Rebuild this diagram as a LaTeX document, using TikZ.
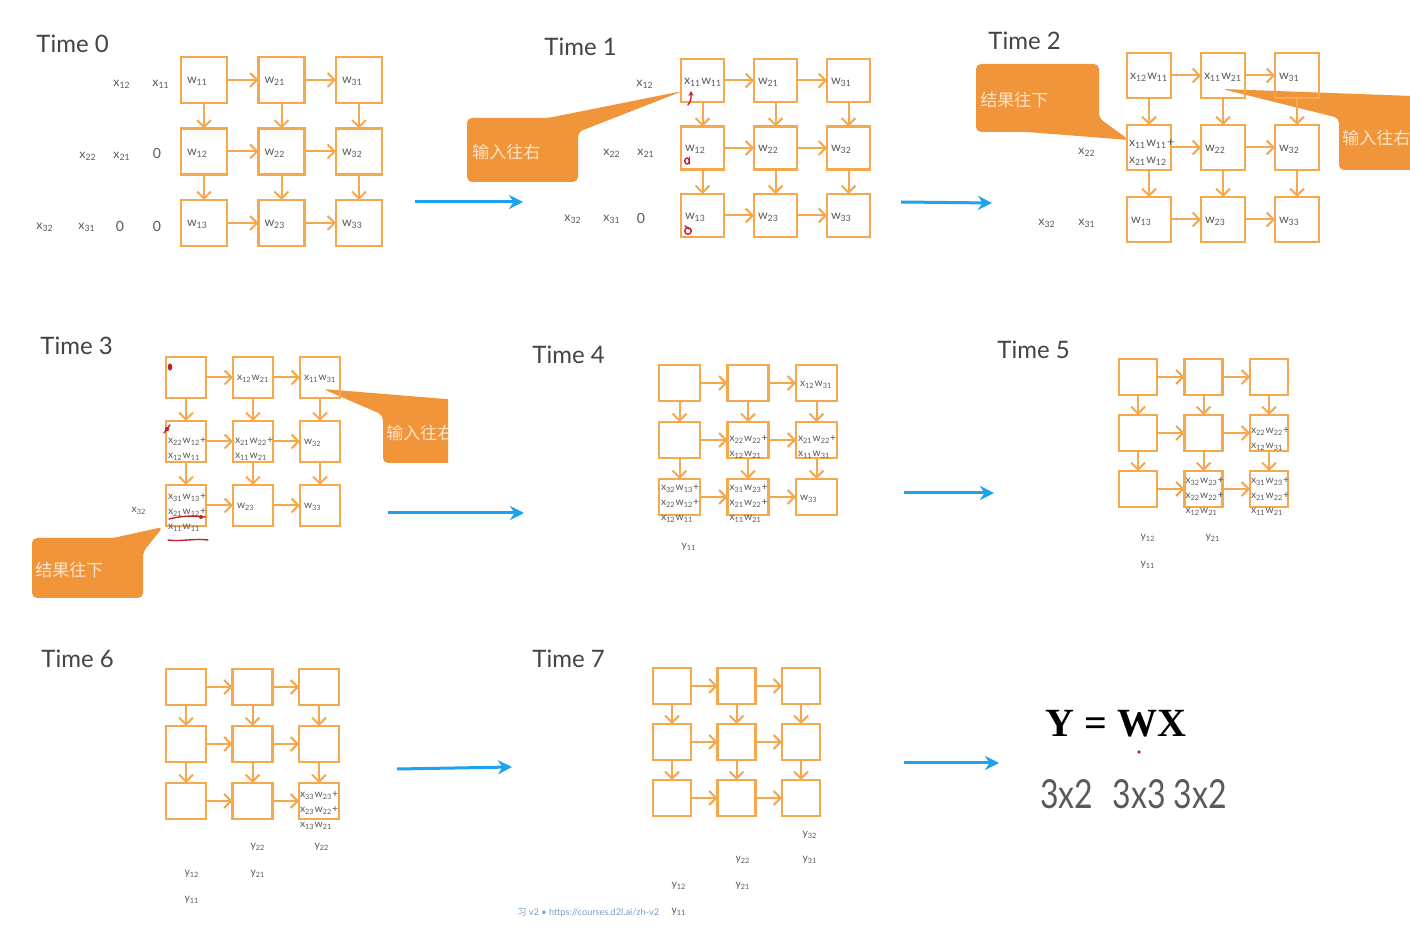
\documentclass[tikz,border=0pt]{standalone}
\usepackage{fontspec}
\setmainfont{Lato}
\newfontfamily\cjk{Noto Sans CJK SC}
\newfontfamily\serifb{Liberation Serif}
\usetikzlibrary{arrows.meta,calc}
\definecolor{boxor}{HTML}{F5A84E}
\definecolor{calor}{HTML}{F1953A}
\definecolor{ctxt}{HTML}{FCE4CB}
\definecolor{txtgray}{HTML}{5A5A5A}
\definecolor{ttlgray}{HTML}{444444}
\definecolor{arrblue}{HTML}{1EA2F0}
\definecolor{redmk}{HTML}{C2202C}
\definecolor{footc}{HTML}{7C9CC8}
\newcommand\myS[1]{\textsubscript{#1}}
\tikzset{
 cell/.style={draw=boxor, line width=1.25pt, inner sep=0pt, outer sep=0pt},
 flow/.style={draw=boxor, line width=1pt, -{Straight Barb[length=3.5pt,width=7pt]}},
 lab/.style={text=txtgray, font=\fontsize{6.2}{7.5}\selectfont, inner sep=0pt},
 clab/.style={lab, anchor=west, align=left, yshift=-0.8pt},
 small/.style={font=\fontsize{5.2}{7.5}\selectfont},
 ttl/.style={text=ttlgray, font=\fontsize{12}{14}\selectfont, anchor=west, inner sep=0pt},
 bluearrow/.style={draw=arrblue, line width=1.5pt, -{Stealth[length=7pt,width=7pt]}},
 callout/.style={fill=calor, rounded corners=2.5pt},
 ctext/.style={text=ctxt, font=\cjk\fontsize{8.5}{10}\selectfont, anchor=west, inner sep=0pt},
 redline/.style={draw=redmk, line width=0.7pt, line cap=round},
}
\newcommand\mkgrid[7]{%
  \foreach \r in {1,2,3}{\foreach \c in {1,2,3}{%
    \node[cell,minimum width=#4*0.5pt,minimum height=#5*0.5pt] (#1\r\c) at ({#2+(\c-1)*#6+#4/2},{#3+(\r-1)*#7+#5/2}) {};}}
  \foreach \r in {1,2,3}{\foreach \c/\n in {1/2,2/3}{\draw[flow] (#1\r\c) -- (#1\r\n);}}
  \foreach \c in {1,2,3}{\foreach \r/\n in {1/2,2/3}{\draw[flow] (#1\r\c) -- (#1\n\c);}}
}
\newcommand\cl[3][]{\node[clab,#1] (#2l) at ([xshift=1.8pt]#2.west) {#3};}
\begin{document}
\begin{tikzpicture}[x=0.5pt,y=-0.5pt]
\useasboundingbox[fill=white] (0,0) rectangle (1410,930);

% ---------------- Time 0
\node[ttl] (t0) at (36,44) {Time 0};
\mkgrid{a}{181}{57}{46}{46}{77.5}{71.5}
\cl[xshift=1pt]{a11}{w\myS{11}}\cl[xshift=1pt]{a12}{w\myS{21}}\cl[xshift=1pt]{a13}{w\myS{31}}
\cl[xshift=1pt]{a21}{w\myS{12}}\cl[xshift=1pt]{a22}{w\myS{22}}\cl[xshift=1pt]{a23}{w\myS{32}}
\cl[xshift=1pt]{a31}{w\myS{13}}\cl[xshift=1pt]{a32}{w\myS{23}}\cl[xshift=1pt]{a33}{w\myS{33}}
\node[lab] (a-x12) at (122,84) {x\myS{12}};
\node[lab] (a-x11) at (161,84) {x\myS{11}};
\node[lab] (a-x22) at (88,156) {x\myS{22}};
\node[lab] (a-x21) at (122,156) {x\myS{21}};
\node[lab,font=\fontsize{7}{8}\selectfont] (a-z2) at (157,153) {0};
\node[lab] (a-x32) at (45,227) {x\myS{32}};
\node[lab] (a-x31) at (87,227) {x\myS{31}};
\node[lab,font=\fontsize{7}{8}\selectfont] (a-z31) at (120,226) {0};
\node[lab,font=\fontsize{7}{8}\selectfont] (a-z32) at (157,226) {0};

% ---------------- Time 1
\node[ttl] (t1) at (544,47) {Time 1};
\fill[callout] (467,118) -- (548,118) -- (683,91) -- (578,132) -- (578,182) -- (467,182) -- cycle;
\node[ctext] (c1) at (472,152) {输入往右};
\mkgrid{b}{681}{59}{43}{43}{73}{67.5}
\cl[xshift=-0.5pt]{b11}{x\myS{11}w\myS{11}}\cl{b12}{w\myS{21}}\cl{b13}{w\myS{31}}
\cl{b21}{w\myS{12}}\cl{b22}{w\myS{22}}\cl{b23}{w\myS{32}}
\cl{b31}{w\myS{13}}\cl{b32}{w\myS{23}}\cl{b33}{w\myS{33}}
\node[lab] (b-x12) at (645,84) {x\myS{12}};
\node[lab] (b-x22) at (612,153) {x\myS{22}};
\node[lab] (b-x21) at (646,153) {x\myS{21}};
\node[lab] (b-x32) at (573,219) {x\myS{32}};
\node[lab] (b-x31) at (612,219) {x\myS{31}};
\node[lab,font=\fontsize{7}{8}\selectfont] (b-z3) at (641,218) {0};
\draw[redline,-{Stealth[length=2.5pt,width=2.5pt]}] (688,105) .. controls (691,100) .. (691,91);
\draw[redline] (687,161) ellipse (2.3 and 3);
\draw[redline] (689.5,157) -- (689.5,164);
\draw[redline] (688,231) circle (3.3);
\draw[redline] (685,226) -- (689,229);

% ---------------- Time 2
\node[ttl] (t2) at (988,41) {Time 2};
\fill[callout] (976,64) -- (1099,64) -- (1099,118) -- (1129,140) -- (1027,132) -- (976,132) -- cycle;
\node[ctext] (c2) at (980,100) {结果往下};
\fill[callout] (1222,89) -- (1440,97) -- (1440,170) -- (1339,170) -- (1339,118) -- cycle;
\node[ctext] (c3) at (1342,138) {输入往右};
\mkgrid{c}{1127}{53}{44}{45}{74}{72}
\cl[xshift=-0.5pt]{c11}{x\myS{12}w\myS{11}}\cl[xshift=-0.5pt]{c12}{x\myS{11}w\myS{21}}\cl{c13}{w\myS{31}}
\cl[xshift=-1pt,yshift=-1.5pt,font=\fontsize{6.2}{8.5}\selectfont]{c21}{x\myS{11}w\myS{11}+\\x\myS{21}w\myS{12}}\cl{c22}{w\myS{22}}\cl{c23}{w\myS{32}}
\cl{c31}{w\myS{13}}\cl{c32}{w\myS{23}}\cl{c33}{w\myS{33}}
\node[lab] (c-x22) at (1087,152) {x\myS{22}};
\node[lab] (c-x32) at (1047,223) {x\myS{32}};
\node[lab] (c-x31) at (1087,223) {x\myS{31}};

% ---------------- Time 3
\node[ttl] (t3) at (40,346) {Time 3};
\begin{scope}
\clip (0,300) rectangle (448,620);
\fill[callout] (323,389) -- (470,401) -- (470,463) -- (383,463) -- (383,415) -- cycle;
\node[ctext] (c4) at (386,433) {输入往右};
\end{scope}
\fill[callout] (32,538) -- (113,538) -- (163,527) -- (143,552) -- (143,598) -- (32,598) -- cycle;
\node[ctext] (c5) at (35,570) {结果往下};
\mkgrid{d}{166}{357}{40}{41}{67}{64}
\cl[small]{d12}{x\myS{12}w\myS{21}}\cl[small]{d13}{x\myS{11}w\myS{31}}
\cl[small,xshift=-1pt,yshift=-3pt]{d21}{x\myS{22}w\myS{12}+\\x\myS{12}w\myS{11}}
\cl[small,xshift=-1pt,yshift=-3pt]{d22}{x\myS{21}w\myS{22}+\\x\myS{11}w\myS{21}}
\cl[small]{d23}{w\myS{32}}
\cl[small,xshift=-1pt,yshift=-2.75pt]{d31}{x\myS{31}w\myS{13}+\\x\myS{21}w\myS{12}+\\x\myS{11}w\myS{11}}
\cl[small]{d32}{w\myS{23}}\cl[small]{d33}{w\myS{33}}
\node[lab,small] (d-x32) at (139,511) {x\myS{32}};
\fill[redmk] (170,367) ellipse (2.2 and 3.6);
\fill[redmk] (167,429) circle (2.2);
\draw[redline] (164,433) -- (170,425);
\draw[redline] (169,519) .. controls (185,515) and (195,516) .. (205,517);
\fill[redmk] (201,517) circle (2);
\draw[redline] (168,540) .. controls (180,542) and (195,538) .. (208,540);

% ---------------- Time 4
\node[ttl] (t4) at (532,355) {Time 4};
\mkgrid{e}{659}{365}{41}{36}{68.5}{57}
\cl[small]{e13}{x\myS{12}w\myS{31}}
\cl[small,xshift=-1pt,yshift=-2.5pt]{e22}{x\myS{22}w\myS{22}+\\x\myS{12}w\myS{21}}
\cl[small,xshift=-1pt,yshift=-2.5pt]{e23}{x\myS{21}w\myS{22}+\\x\myS{11}w\myS{31}}
\cl[small,xshift=-1pt,yshift=-2.5pt]{e31}{x\myS{32}w\myS{13}+\\x\myS{22}w\myS{12}+\\x\myS{12}w\myS{11}}
\cl[small,xshift=-1pt,yshift=-2.5pt]{e32}{x\myS{31}w\myS{23}+\\x\myS{21}w\myS{22}+\\x\myS{11}w\myS{21}}
\cl[small]{e33}{w\myS{33}}
\node[lab,small] (e-y11) at (689,547) {y\myS{11}};

% ---------------- Time 5
\node[ttl] (t5) at (997,350) {Time 5};
\mkgrid{f}{1119}{359}{38}{36}{65.5}{56}
\cl[small,xshift=-1.5pt,yshift=-2pt]{f23}{x\myS{22}w\myS{22}+\\x\myS{12}w\myS{31}}
\cl[small,xshift=-1.5pt,yshift=-3pt]{f32}{x\myS{32}w\myS{23}+\\x\myS{22}w\myS{22}+\\x\myS{12}w\myS{21}}
\cl[small,xshift=-1.5pt,yshift=-3pt]{f33}{x\myS{31}w\myS{23}+\\x\myS{21}w\myS{22}+\\x\myS{11}w\myS{21}}
\node[lab,small] (f-y12) at (1148,538) {y\myS{12}};
\node[lab,small] (f-y21) at (1213,538) {y\myS{21}};
\node[lab,small] (f-y11) at (1148,565) {y\myS{11}};

% ---------------- Time 6
\node[ttl] (t6) at (41,659) {Time 6};
\mkgrid{g}{166}{669}{40}{36}{66.5}{57}
\cl[small,xshift=-1.5pt,yshift=-4pt]{g33}{x\myS{33}w\myS{23}+\\x\myS{23}w\myS{22}+\\x\myS{13}w\myS{21}}
\node[lab,small] (g-y22a) at (258,847) {y\myS{22}};
\node[lab,small] (g-y22b) at (322,847) {y\myS{22}};
\node[lab,small] (g-y12) at (192,874) {y\myS{12}};
\node[lab,small] (g-y21) at (258,874) {y\myS{21}};
\node[lab,small] (g-y11) at (192,900) {y\myS{11}};

% ---------------- Time 7
\node[ttl] (t7) at (532,659) {Time 7};
\mkgrid{h}{653}{668}{38}{36}{64.5}{56}
\node[lab,small] (h-y32) at (810,835) {y\myS{32}};
\node[lab,small] (h-y22) at (743,860) {y\myS{22}};
\node[lab,small] (h-y31) at (810,860) {y\myS{31}};
\node[lab,small] (h-y12) at (679,886) {y\myS{12}};
\node[lab,small] (h-y21) at (743,886) {y\myS{21}};
\node[lab,small] (h-y11) at (679,912) {y\myS{11}};
\node[anchor=west, inner sep=0pt, text=footc, font=\fontsize{4.6}{6}\selectfont] (foot) at (517,913) {{\cjk 习} v2 • https://courses.d2l.ai/zh-v2};

% ---------------- formula
\node[inner sep=0pt, font=\serifb\bfseries\fontsize{20}{24}\selectfont] (ywx) at (1116,724) {Y = WX};
\node[inner sep=0pt, anchor=west, text=txtgray, font=\fontsize{20}{24}\selectfont] (dims) at (1040,794) {\scalebox{0.8}[1]{3x2\hspace{0.6em}3x3 3x2}};
\fill[redmk] (1139,752) circle (1.8);

% ---------------- blue arrows
\coordinate (p1s) at (415,202); \coordinate (p1e) at (523,202);
\coordinate (p2s) at (901,202); \coordinate (p2e) at (992,203);
\coordinate (p3s) at (388,513); \coordinate (p3e) at (524,513);
\coordinate (p4s) at (904,493); \coordinate (p4e) at (994,493);
\coordinate (p5s) at (397,769); \coordinate (p5e) at (512,767);
\coordinate (p6s) at (904,763); \coordinate (p6e) at (999,763);
\foreach \k in {1,...,6}{\draw[bluearrow] (p\k s) -- (p\k e);}
\end{tikzpicture}
\end{document}
